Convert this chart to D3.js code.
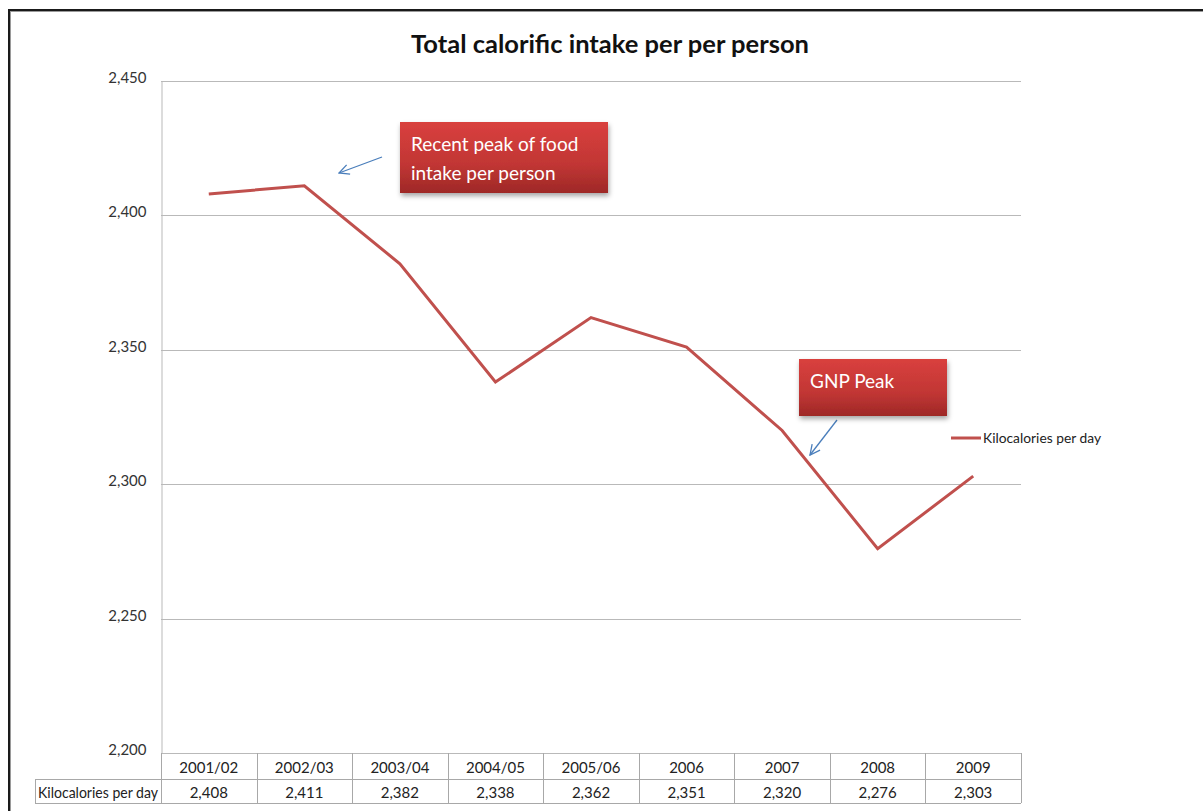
<!DOCTYPE html>
<html><head><meta charset="utf-8">
<script src="https://cdn.jsdelivr.net/npm/d3@7"></script>
<style>
html,body{margin:0;padding:0;background:#fff;}
svg{display:block;font-family:Lato,"Open Sans",sans-serif;}
</style></head>
<body>
<svg id="chart" width="1203" height="811"></svg>
<script>
const categories = ["2001/02","2002/03","2003/04","2004/05","2005/06","2006","2007","2008","2009"];
const values = [2408,2411,2382,2338,2362,2351,2320,2276,2303];
const yTicks = [2200,2250,2300,2350,2400,2450];
const seriesName = "Kilocalories per day";
const title = "Total calorific intake per per person";

const svg = d3.select("#chart");
const W = 1203, H = 811;
const plot = {left:161, right:1021, top:81, bottom:753};
const lineColor = "#c0504d";
const gridColor = "#b9b9b9";

const defs = svg.append("defs");
const grad = defs.append("linearGradient").attr("id","boxGrad").attr("x1",0).attr("y1",0).attr("x2",0).attr("y2",1);
grad.append("stop").attr("offset","0%").attr("stop-color","#d9403e");
grad.append("stop").attr("offset","60%").attr("stop-color","#c13634");
grad.append("stop").attr("offset","100%").attr("stop-color","#9e2827");
const f = defs.append("filter").attr("id","shadow").attr("x","-10%").attr("y","-10%").attr("width","130%").attr("height","140%");
f.append("feDropShadow").attr("dx",1).attr("dy",3).attr("stdDeviation",2.5).attr("flood-color","#000").attr("flood-opacity",0.35);
defs.append("marker").attr("id","arr").attr("viewBox","0 0 12 12").attr("refX",11).attr("refY",6)
  .attr("markerWidth",12).attr("markerHeight",12).attr("markerUnits","userSpaceOnUse").attr("orient","auto")
  .append("path").attr("d","M1,1 L11,6 L1,11").attr("fill","none").attr("stroke","#4a7ebb").attr("stroke-width",1.3);

// frame
svg.append("line").attr("x1",9).attr("x2",W).attr("y1",10).attr("y2",10).attr("stroke","#1a1a1a").attr("stroke-width",2);
svg.append("line").attr("x1",9).attr("x2",W).attr("y1",11.5).attr("y2",11.5).attr("stroke","#9a9a9a").attr("stroke-width",1);
svg.append("line").attr("x1",9).attr("x2",9).attr("y1",9).attr("y2",H).attr("stroke","#1a1a1a").attr("stroke-width",2);
svg.append("line").attr("x1",10.5).attr("x2",10.5).attr("y1",11).attr("y2",H).attr("stroke","#9a9a9a").attr("stroke-width",1);

const x = d3.scaleBand().domain(categories).range([plot.left, plot.right]);
const y = d3.scaleLinear().domain([2200,2450]).range([plot.bottom, plot.top]);

// title
svg.append("text").attr("x",610).attr("y",53).attr("text-anchor","middle")
  .attr("font-size",25.5).attr("font-weight","bold").attr("fill","#111").text(title);

// grid
svg.append("g").selectAll("line").data(yTicks).join("line")
  .attr("x1",plot.left).attr("x2",plot.right)
  .attr("y1",d=>Math.round(y(d))+0.5).attr("y2",d=>Math.round(y(d))+0.5)
  .attr("stroke",gridColor).attr("stroke-width",1);
// y axis
const yAxis = d3.axisLeft(y).tickValues(yTicks).tickFormat(d3.format(",")).tickSize(0).tickPadding(15);
const ga = svg.append("g").attr("transform",`translate(${plot.left+0.5},0)`).call(yAxis);
ga.select(".domain").attr("stroke",gridColor);
ga.selectAll("text").attr("font-size",15).attr("fill","#333").attr("font-family","Lato,sans-serif").attr("dy","0.1em");

// line
const line = d3.line().x((d,i)=>x(categories[i])+x.bandwidth()/2).y(d=>y(d));
svg.append("path").datum(values).attr("d",line).attr("fill","none")
  .attr("stroke",lineColor).attr("stroke-width",3).attr("stroke-linejoin","miter");

// data table
const tb = svg.append("g");
const rowTop = plot.bottom, rowMid = 779, rowBot = 803, labelLeft = 35;
const tblColor = "#a8a8a8";
const bounds = categories.map(c=>x(c)).concat([plot.right]);
tb.selectAll("line.v").data(bounds).join("line").attr("class","v")
  .attr("x1",d=>Math.round(d)+0.5).attr("x2",d=>Math.round(d)+0.5).attr("y1",rowTop).attr("y2",rowBot)
  .attr("stroke",tblColor);
tb.append("line").attr("x1",labelLeft).attr("x2",plot.right).attr("y1",rowMid+0.5).attr("y2",rowMid+0.5).attr("stroke",tblColor);
tb.append("line").attr("x1",labelLeft).attr("x2",plot.right).attr("y1",rowBot+0.5).attr("y2",rowBot+0.5).attr("stroke",tblColor);
tb.append("line").attr("x1",labelLeft+0.5).attr("x2",labelLeft+0.5).attr("y1",rowMid).attr("y2",rowBot).attr("stroke",tblColor);
tb.selectAll("text.cat").data(categories).join("text").attr("class","cat")
  .attr("x",d=>x(d)+x.bandwidth()/2).attr("y",773).attr("text-anchor","middle")
  .attr("font-size",15).attr("fill","#222").text(d=>d);
tb.selectAll("text.val").data(values).join("text").attr("class","val")
  .attr("x",(d,i)=>x(categories[i])+x.bandwidth()/2).attr("y",798).attr("text-anchor","middle")
  .attr("font-size",15).attr("fill","#222").text(d=>d3.format(",")(d));
tb.append("text").attr("x",98).attr("y",798).attr("text-anchor","middle")
  .attr("font-size",15).attr("fill","#222").attr("textLength",120).attr("lengthAdjust","spacingAndGlyphs").text(seriesName);

// legend
svg.append("line").attr("x1",951).attr("x2",981).attr("y1",438).attr("y2",438).attr("stroke",lineColor).attr("stroke-width",3);
svg.append("text").attr("x",983).attr("y",443).attr("font-size",14).attr("fill","#222")
  .attr("textLength",118).attr("lengthAdjust","spacingAndGlyphs").text(seriesName);

// annotations
function callout(bx,by,bw,bh,lines,lh,ax1,ay1,ax2,ay2){
  svg.append("line").attr("x1",ax1).attr("y1",ay1).attr("x2",ax2).attr("y2",ay2)
    .attr("stroke","#4a7ebb").attr("stroke-width",1.3).attr("marker-end","url(#arr)");
  svg.append("rect").attr("x",bx).attr("y",by).attr("width",bw).attr("height",bh)
    .attr("fill","url(#boxGrad)").attr("filter","url(#shadow)");
  lines.forEach((t,i)=>svg.append("text").attr("x",bx+11).attr("y",by+29+i*lh)
    .attr("font-size",19).attr("fill","#fff").attr("font-family","Lato,'Open Sans',sans-serif").text(t));
}
callout(400,122,208,71,["Recent peak of food","intake per person"],29,382,157,339,173);
callout(799,359,148,57,["GNP Peak"],29,837,420,810,455);
</script>
</body></html>
